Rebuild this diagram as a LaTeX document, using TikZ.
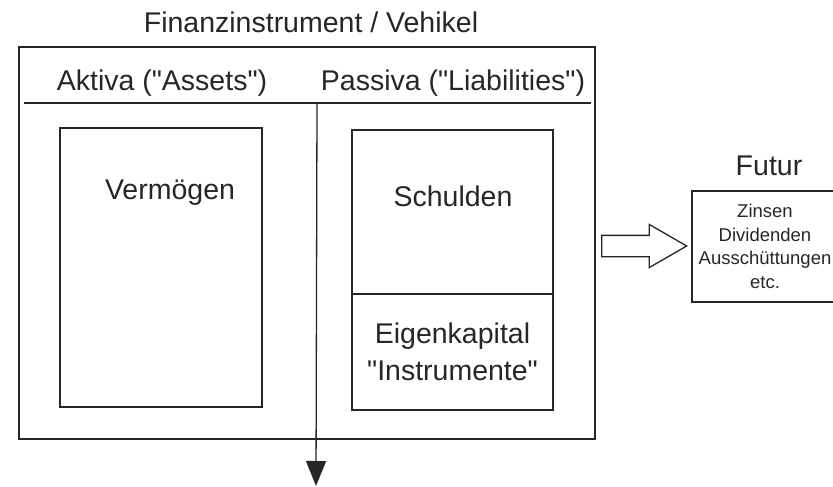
\documentclass[tikz,border=0pt]{standalone}
\usepackage{fontspec}
\setmainfont{Liberation Sans}
\usetikzlibrary{arrows.meta, shapes.arrows}

\begin{document}
\begin{tikzpicture}[x=1pt, y=-1pt, line width=1.3pt, color=black!85,
    gross/.style={font=\fontsize{28.5}{37}\selectfont},
    klein/.style={font=\fontsize{18.5}{23.5}\selectfont},
    kasten/.style={draw, inner sep=0pt}]
        \useasboundingbox (0,0) rectangle (833,487);
        % Rahmen mit Kopfzeile
        \node[kasten, minimum width=576pt, minimum height=392pt] (vehikel) at (307,243) {};
        \node[gross, anchor=base] (titel) at (311,33) {Finanzinstrument / Vehikel};
        \node[gross, anchor=base] (aktiva) at (162,91) {Aktiva (\textquotedbl Assets\textquotedbl)};
        \node[gross, anchor=base] (passiva) at (453,91) {Passiva (\textquotedbl Liabilities\textquotedbl)};
        \coordinate (kopflinks) at (24,103);
        \coordinate (kopfrechts) at (591,103);
        \draw (kopflinks) -- (kopfrechts);
        % Aktiva
        \node[kasten, minimum width=202pt, minimum height=279pt] (vermoegen) at (161,267.5) {};
        \node[gross, anchor=base] (vermoegentext) at (170,199) {Vermögen};
        % Passiva
        \node[kasten, minimum width=201pt, minimum height=164pt] (schulden) at (452.5,212) {};
        \node[gross, anchor=base] (schuldentext) at (453,206) {Schulden};
        \node[kasten, gross, align=center, minimum width=201pt, minimum height=116pt] (eigenkapital) at (452.5,352) {Eigenkapital\\\textquotedbl Instrumente\textquotedbl};
        \coordinate (oben) at (317,103);
        \coordinate (unten) at (316,486);
        \draw[-{Triangle[length=25pt, width=20pt]}] (oben) -- (unten);
        % Futur
        \node[draw, single arrow, single arrow head extend=11pt, single arrow tip angle=60, minimum height=85pt, inner xsep=0pt, inner ysep=10pt, anchor=tail] (pfeil) at (601,246) {};
        \node[gross, anchor=base] (futurtitel) at (769,175) {Futur};
        \node[kasten, minimum width=154pt, minimum height=111pt] (futur) at (769,246.5) {};
        \node[klein, align=center] (futurtext) at (765,246.5) {Zinsen\\Dividenden\\Ausschüttungen\\etc.};
    \end{tikzpicture}
\end{document}
